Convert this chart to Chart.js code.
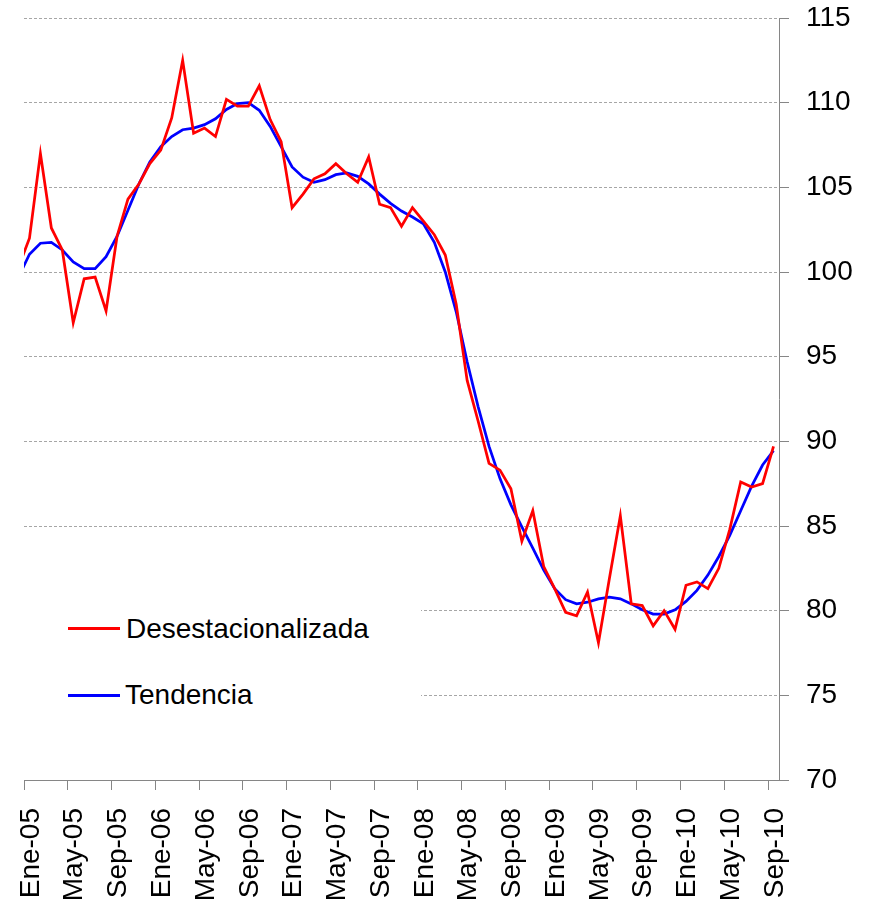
<!DOCTYPE html>
<html>
<head>
<meta charset="utf-8">
<script src="https://cdn.jsdelivr.net/npm/chart.js@4.4.1/dist/chart.umd.min.js"></script>
<style>
    body { margin: 0; background: #fff; }
    #wrap { position: relative; width: 875px; height: 910px; }
    #legend { position: absolute; left: 0; top: 560px; width: 421px; height: 170px; background: #fff; font-family: "Liberation Sans", Arial, sans-serif; font-size: 28px; color: #000; }
    .swatch { position: absolute; left: 68px; width: 52px; height: 3px; }
    .lbl { position: absolute; line-height: 34px; white-space: nowrap; }
</style>
</head>
<body>
<div id="wrap">
    <canvas id="chart" width="875" height="910"></canvas>
    <div id="legend">
        <div class="swatch" style="top:66.5px;background:#ff0000"></div>
        <div class="lbl" style="left:126px;top:51.6px">Desestacionalizada</div>
        <div class="swatch" style="top:133.5px;background:#0000ff"></div>
        <div class="lbl" style="left:125px;top:118.3px">Tendencia</div>
    </div>
</div>
<script>
//DATA - monthly, Dic-04 .. Sep-10 (Dic-04 only shows as the clipped start of the lines)
var tickLabels = ['Ene-05', 'May-05', 'Sep-05', 'Ene-06', 'May-06', 'Sep-06', 'Ene-07', 'May-07', 'Sep-07',
    'Ene-08', 'May-08', 'Sep-08', 'Ene-09', 'May-09', 'Sep-09', 'Ene-10', 'May-10', 'Sep-10'];

var desestacionalizada = [100.3,
    102.0, 107.0, 102.6, 101.3, 97.0, 99.6, 99.7, 97.7, 102.1, 104.3, 105.2, 106.4,
    107.2, 109.1, 112.5, 108.2, 108.5, 108.0, 110.2, 109.8, 109.8, 111.0, 109.0, 107.7,
    103.8, 104.6, 105.5, 105.8, 106.4, 105.8, 105.3, 106.8, 104.0, 103.8, 102.7, 103.8,
    103.0, 102.2, 101.0, 98.1, 93.6, 91.2, 88.7, 88.3, 87.2, 84.1, 85.9, 82.6,
    81.3, 79.9, 79.7, 81.1, 78.1, 81.9, 85.6, 80.4, 80.3, 79.1, 80.0, 78.9,
    81.5, 81.7, 81.3, 82.5, 84.8, 87.6, 87.3, 87.5, 89.7];

var tendencia = [99.7,
    101.05, 101.7, 101.75, 101.3, 100.6, 100.2, 100.2, 100.9, 102.1, 103.65, 105.2, 106.5,
    107.4, 108.0, 108.4, 108.5, 108.7, 109.05, 109.6, 109.95, 110.0, 109.55, 108.6, 107.4,
    106.2, 105.6, 105.3, 105.45, 105.75, 105.85, 105.65, 105.2, 104.6, 104.05, 103.6, 103.25,
    102.85, 101.75, 100.0, 97.65, 94.7, 92.05, 89.7, 87.8, 86.25, 84.95, 83.7, 82.4,
    81.3, 80.65, 80.4, 80.5, 80.7, 80.8, 80.7, 80.4, 80.05, 79.8, 79.8, 80.05,
    80.55, 81.2, 82.1, 83.2, 84.45, 85.9, 87.35, 88.6, 89.45];

var axisColor = '#868686';
var gridColor = '#a6a6a6';
var fontFamily = '"Liberation Sans", Arial, sans-serif';

//points sit mid-month, ticks mark the start of the month (x = months since Ene-05)
function toPoints(values) {
    var pts = [];
    for (var i = 0; i < values.length; i++)
        pts.push({ x: i - 0.5, y: values[i] });
    return pts;
}

var ctx = document.getElementById('chart').getContext('2d');
var chart = new Chart(ctx, {
    type: 'line',
    data: {
        datasets: [{
            label: 'Desestacionalizada',
            data: toPoints(desestacionalizada),
            borderColor: '#ff0000',
            borderWidth: 2.75,
            pointRadius: 0,
            tension: 0,
            clip: 0
        }, {
            label: 'Tendencia',
            data: toPoints(tendencia),
            borderColor: '#0000ff',
            borderWidth: 2.75,
            pointRadius: 0,
            tension: 0,
            clip: 0
        }]
    },
    options: {
        responsive: false,
        animation: false,
        events: [],
        layout: { padding: { left: 24, top: 0, right: 0, bottom: 0 } },
        plugins: { legend: { display: false }, tooltip: { enabled: false } },
        scales: {
            x: {
                type: 'linear',
                min: 0,
                max: 69,
                afterBuildTicks: function(scale) {
                    scale.ticks = tickLabels.map(function(t, i) { return { value: i * 4 }; });
                },
                afterFit: function(scale) {
                    scale.height = 130;
                    scale.paddingLeft = 0;
                    scale.paddingRight = 0;
                },
                ticks: {
                    autoSkip: false,
                    minRotation: 90,
                    maxRotation: 90,
                    padding: 18,
                    labelOffset: 7,
                    color: '#000',
                    font: { family: fontFamily, size: 28 },
                    callback: function(value) { return tickLabels[Math.round(value / 4)]; }
                },
                grid: { drawOnChartArea: false, drawTicks: true, tickLength: 10, color: axisColor },
                border: { display: true, color: axisColor, width: 1 }
            },
            y: {
                position: 'right',
                min: 70,
                max: 115,
                afterFit: function(scale) {
                    scale.width = 96;
                    scale.paddingTop = 18;
                    scale.paddingBottom = 0;
                },
                ticks: {
                    stepSize: 5,
                    padding: 17,
                    color: '#000',
                    font: { family: fontFamily, size: 28 }
                },
                grid: { color: gridColor, lineWidth: 1, tickLength: 10, tickColor: axisColor, tickBorderDash: [] },
                border: { display: true, color: axisColor, width: 1, dash: [3, 2] }
            }
        }
    }
});
</script>
</body>
</html>
